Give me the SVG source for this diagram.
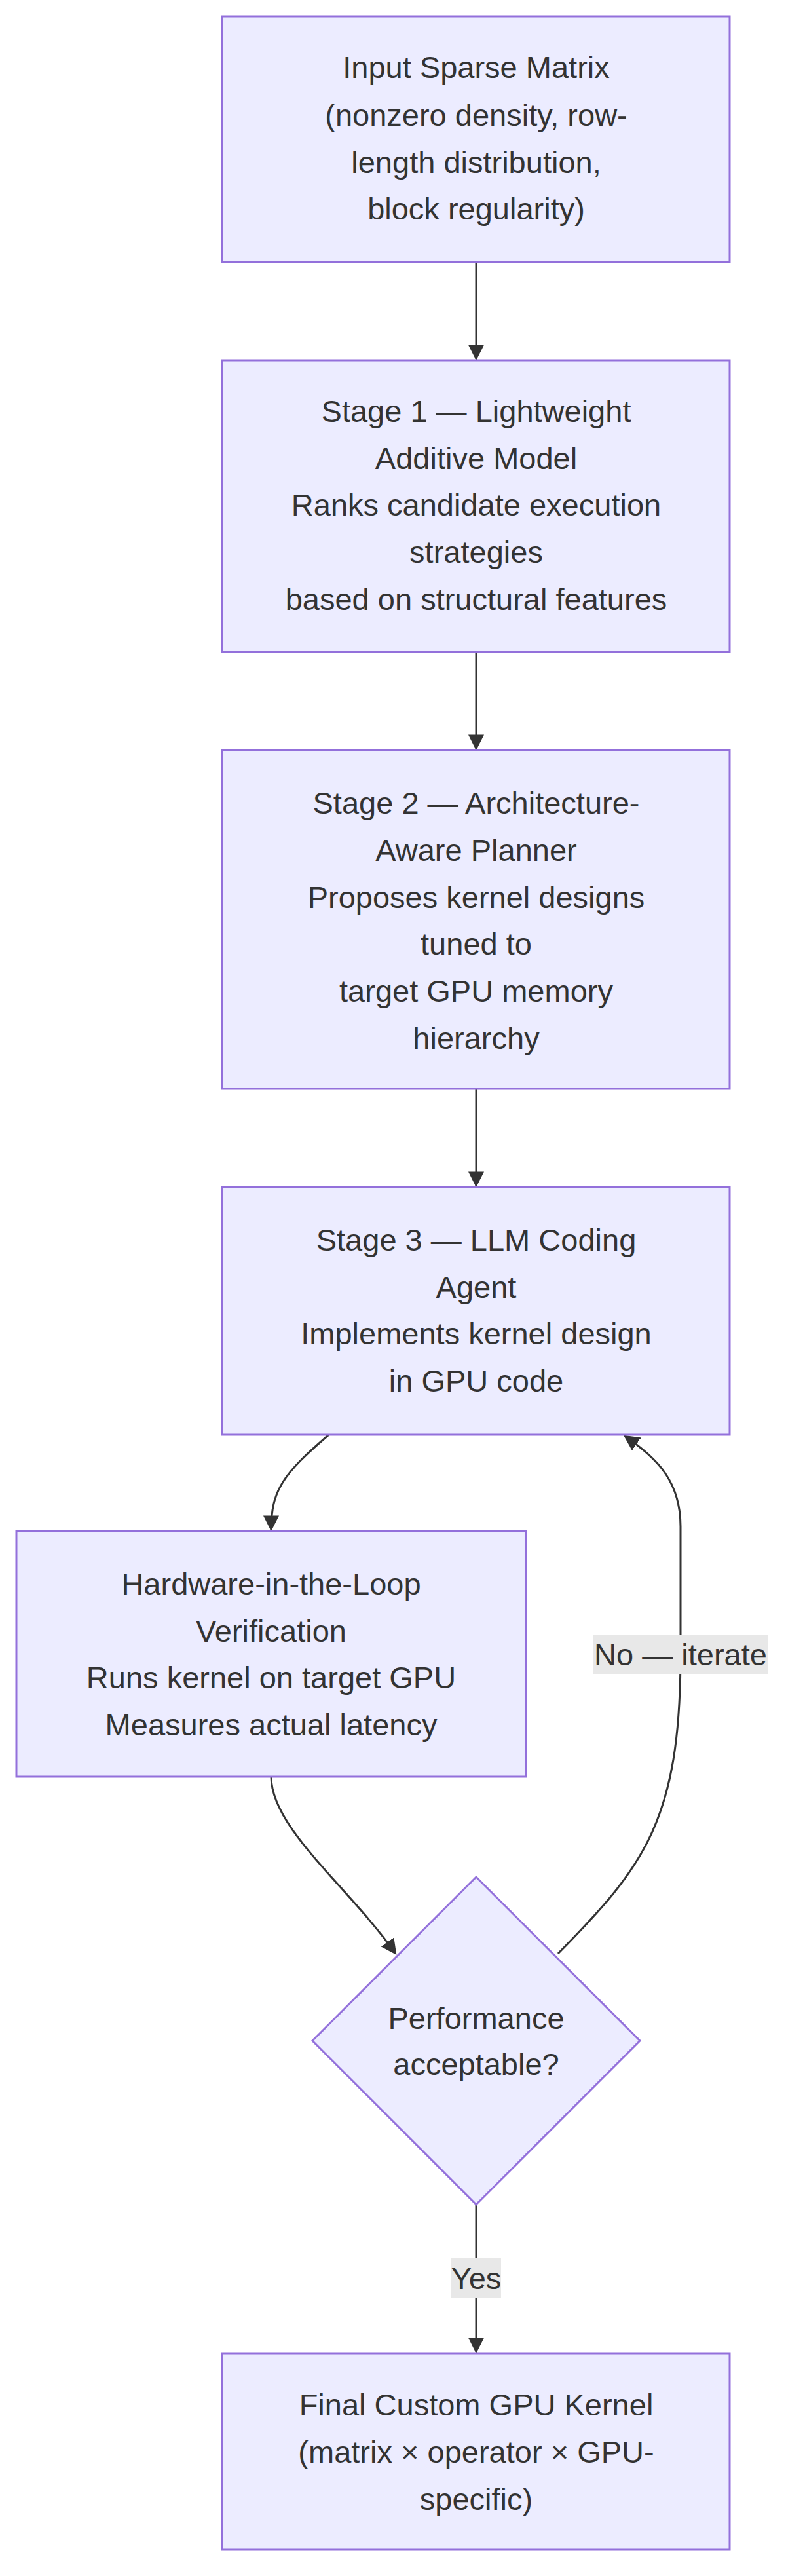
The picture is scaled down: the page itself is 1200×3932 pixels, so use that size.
<svg xmlns="http://www.w3.org/2000/svg" width="1200" height="3932" viewBox="0 0 1200 3932">
<style>
.n{fill:#ECECFF;stroke:#9370DB;stroke-width:3}
.t{font-family:"Liberation Sans",Arial,sans-serif;font-size:47px;fill:#333;text-anchor:middle;dominant-baseline:central}
.e{fill:none;stroke:#333;stroke-width:3}
.lb{fill:#e8e8e8}
</style>
<defs>
<marker id="ah" viewBox="0 0 10 10" refX="9" refY="5" markerWidth="24" markerHeight="24" markerUnits="userSpaceOnUse" orient="auto"><path d="M0,0L10,5L0,10z" fill="#333"/></marker></defs>
<g id="edges">
<path class="e" d="M727,400V548" marker-end="url(#ah)"/>
<path class="e" d="M727,995V1143" marker-end="url(#ah)"/>
<path class="e" d="M727,1662V1810" marker-end="url(#ah)"/>
<path class="e" d="M502,2190C432,2250 414,2275 414,2335" marker-end="url(#ah)"/>
<path class="e" d="M414,2712C414,2790 532,2880 604,2982" marker-end="url(#ah)"/>
<path class="e" d="M852,2982C982,2850 1039,2780 1039,2525L1039,2330C1039,2260 1002,2225 954,2192" marker-end="url(#ah)"/>
<path class="e" d="M727,3365V3590" marker-end="url(#ah)"/>
<rect class="lb" x="905" y="2495" width="268" height="60"/>
<text class="t" x="1039" y="2525">No — iterate</text>
<rect class="lb" x="689" y="3447" width="76" height="60"/>
<text class="t" x="727" y="3477">Yes</text>
</g>
<g id="input"><rect class="n" x="339" y="25" width="775" height="375"/>
<text class="t" x="727" y="102">Input Sparse Matrix</text><text class="t" x="727" y="175">(nonzero density, row-</text><text class="t" x="727" y="247">length distribution,</text><text class="t" x="727" y="318">block regularity)</text></g>
<g id="stage1"><rect class="n" x="339" y="550" width="775" height="445"/>
<text class="t" x="727" y="627">Stage 1 — Lightweight</text><text class="t" x="727" y="699">Additive Model</text><text class="t" x="727" y="770">Ranks candidate execution</text><text class="t" x="727" y="842">strategies</text><text class="t" x="727" y="914">based on structural features</text></g>
<g id="stage2"><rect class="n" x="339" y="1145" width="775" height="517"/>
<text class="t" x="727" y="1225">Stage 2 — Architecture-</text><text class="t" x="727" y="1297">Aware Planner</text><text class="t" x="727" y="1369">Proposes kernel designs</text><text class="t" x="727" y="1440">tuned to</text><text class="t" x="727" y="1512">target GPU memory</text><text class="t" x="727" y="1584">hierarchy</text></g>
<g id="stage3"><rect class="n" x="339" y="1812" width="775" height="378"/>
<text class="t" x="727" y="1892">Stage 3 — LLM Coding</text><text class="t" x="727" y="1964">Agent</text><text class="t" x="727" y="2035">Implements kernel design</text><text class="t" x="727" y="2107">in GPU code</text></g>
<g id="hil"><rect class="n" x="25" y="2337" width="778" height="375"/>
<text class="t" x="414" y="2417">Hardware-in-the-Loop</text><text class="t" x="414" y="2489">Verification</text><text class="t" x="414" y="2560">Runs kernel on target GPU</text><text class="t" x="414" y="2632">Measures actual latency</text></g>
<g id="decision"><polygon class="n" points="727,2865 977,3115 727,3365 477,3115"/>
<text class="t" x="727" y="3080">Performance</text><text class="t" x="727" y="3150">acceptable?</text></g>
<g id="final"><rect class="n" x="339" y="3592" width="775" height="300"/>
<text class="t" x="727" y="3670">Final Custom GPU Kernel</text><text class="t" x="727" y="3742">(matrix × operator × GPU-</text><text class="t" x="727" y="3814">specific)</text></g>
</svg>
